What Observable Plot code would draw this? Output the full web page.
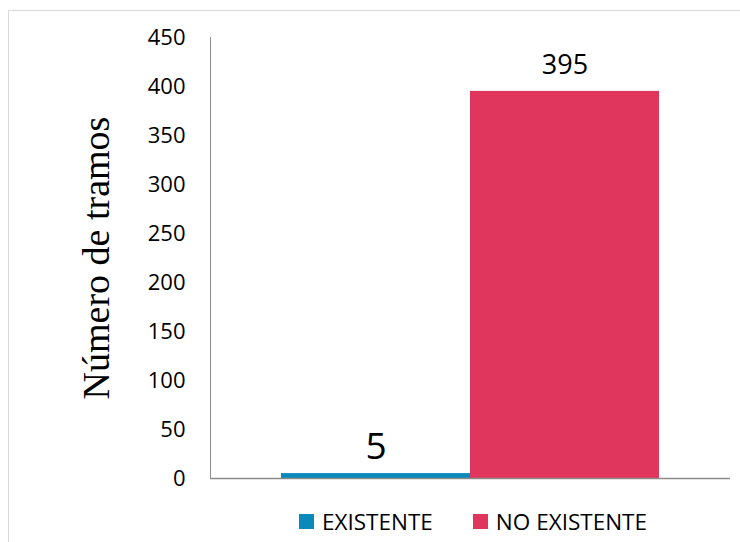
<!DOCTYPE html>
<html>
<head>
<meta charset="utf-8">
<script src="https://cdn.jsdelivr.net/npm/d3@7"></script>
<script src="https://cdn.jsdelivr.net/npm/@observablehq/plot@0.6"></script>
<style>
  html, body { margin: 0; padding: 0; background: #fff; width: 740px; height: 542px; overflow: hidden; }
  #wrap { position: relative; width: 740px; height: 542px; }
  #frame { position: absolute; left: 8px; top: 10px; width: 760px; height: 560px; border: 1px solid #d9d9d9; box-sizing: border-box; }
  #chart { position: absolute; left: 0; top: 0; }
  #legend { position: absolute; left: 299px; top: 506px; display: flex; gap: 40px; font-family: "Open Sans", sans-serif; font-size: 22.5px; color: #000; }
  .item { display: flex; align-items: center; gap: 8px; }
  .sw { width: 15px; height: 15px; display: inline-block; }
</style>
</head>
<body>
<div id="wrap">
  <div id="frame"></div>
  <div id="chart"></div>
  <div id="legend"></div>
</div>
<script>
const categories = ["EXISTENTE", "NO EXISTENTE"];
const values = [5, 395];
const colors = ["#0a89bb", "#e0365e"];
const yTicks = [0, 50, 100, 150, 200, 250, 300, 350, 400, 450];
const yTitle = "Número de tramos";

const data = categories.map((c, i) => ({category: c, value: values[i]}));

const chart = Plot.plot({
  width: 740,
  height: 500,
  marginLeft: 210,
  marginRight: 10,
  marginTop: 37,
  marginBottom: 22,
  style: {background: "transparent", fontFamily: "Open Sans, sans-serif", color: "#000"},
  x: {domain: categories, paddingInner: 0, paddingOuter: 0.372, axis: null},
  y: {domain: [0, 450]},
  color: {domain: categories, range: colors},
  marks: [
    Plot.barY(data, {x: "category", y: "value", fill: "category"}),
    Plot.axisY({ticks: yTicks, tickSize: 0, tickPadding: 25, fontSize: 22, label: null, fill: "#000"}),
    Plot.frame({anchor: "left", stroke: "#8c8c8c"}),
    Plot.ruleY([0], {stroke: "#8c8c8c", strokeWidth: 1.5}),
    Plot.text(data.filter(d => d.value >= 100), {x: "category", y: "value", text: d => String(d.value), lineAnchor: "bottom", dy: -17, fontSize: 27, fill: "#000"}),
    Plot.text(data.filter(d => d.value < 100), {x: "category", y: "value", text: d => String(d.value), lineAnchor: "bottom", dy: -15, fontSize: 37, fill: "#000"}),
    Plot.text([yTitle], {frameAnchor: "left", textAnchor: "middle", rotate: -90, dx: -114, fontFamily: "Liberation Serif", fontSize: 38, fill: "#000"})
  ]
});
document.getElementById("chart").appendChild(chart);

const legend = document.getElementById("legend");
categories.forEach((c, i) => {
  const item = document.createElement("div");
  item.className = "item";
  const sw = document.createElement("span");
  sw.className = "sw";
  sw.style.background = colors[i];
  const t = document.createElement("span");
  t.textContent = c;
  item.appendChild(sw);
  item.appendChild(t);
  legend.appendChild(item);
});
</script>
</body>
</html>
